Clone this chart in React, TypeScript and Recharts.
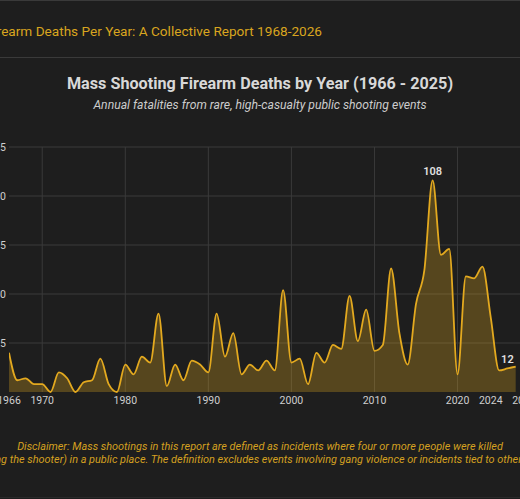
import React from "react";
import { AreaChart, Area, XAxis, YAxis, CartesianGrid } from "recharts";

const YEARS = [
  1966, 1967, 1968, 1969, 1970, 1971, 1972, 1973, 1974, 1975, 1976, 1977, 1978, 1979,
  1980, 1981, 1982, 1983, 1984, 1985, 1986, 1987, 1988, 1989, 1990, 1991, 1992, 1993,
  1994, 1995, 1996, 1997, 1998, 1999, 2000, 2001, 2002, 2003, 2004, 2005, 2006, 2007,
  2008, 2009, 2010, 2011, 2012, 2013, 2014, 2015, 2016, 2017, 2018, 2019, 2020, 2021,
  2022, 2023, 2024, 2025, 2026, 2027,
];

const DEATHS = [
  20, 6, 7, 4, 4, 0, 10, 7, 0, 5, 6, 17, 4, 0,
  14, 9, 18, 15, 40, 3, 14, 6, 16, 14, 10, 40, 18, 30,
  9, 14, 11, 16, 11, 52, 15, 17, 4, 20, 15, 24, 22, 49,
  26, 42, 21, 24, 63, 30, 14, 45, 62, 108, 70, 73, 9, 59,
  58, 64, 38, 11, 12, 13,
];

const X_TICKS = [1966, 1970, 1980, 1990, 2000, 2010, 2020, 2024, 2028];
const X_GRID = [1970, 1980, 1990, 2000, 2010, 2020];
const Y_TICKS = [25, 50, 75, 100, 125];
const LABELLED_YEARS = [2017, 2026];

const GOLD = "#e3a91f";
const BG = "#1e1e1e";
const GRID = "#3a3a3a";

const data = YEARS.map((year, i) => ({ year, deaths: DEATHS[i] }));

function PeakLabel(props: any) {
  const { x, y, value, index } = props;
  if (!LABELLED_YEARS.includes(YEARS[index])) return null;
  return (
    <text
      x={x}
      y={y - 5}
      textAnchor="middle"
      fill="#e0e0e0"
      fontSize={11}
      fontWeight={600}
      fontFamily="Roboto"
    >
      {value}
    </text>
  );
}

export default function App() {
  const tick = { fill: "#cfcfcf", fontSize: 10.5, fontFamily: "Roboto" };
  return (
    <div
      style={{
        position: "fixed",
        left: 0,
        top: 0,
        width: 520,
        height: 499,
        overflow: "hidden",
        background: BG,
        fontFamily: "Roboto",
      }}
    >
      <div style={{ position: "absolute", left: 0, top: 0, width: 520, height: 1, background: GRID }} />
      {/* header, left part runs off the page */}
      <div
        style={{
          position: "absolute",
          right: 198,
          top: 25.2,
          fontSize: 13.6,
          lineHeight: "13.6px",
          color: "#d9a51f",
          whiteSpace: "nowrap",
        }}
      >
        Mass Shooting Firearm Deaths Per Year: A Collective Report 1968-2026
      </div>
      <div style={{ position: "absolute", left: 0, top: 57, width: 520, height: 1, background: GRID }} />

      <div
        style={{
          position: "absolute",
          left: -140,
          width: 800,
          top: 76.4,
          textAlign: "center",
          fontSize: 16.2,
          lineHeight: "16.2px",
          fontWeight: 700,
          color: "#d8d8d8",
        }}
      >
        Mass Shooting Firearm Deaths by Year (1966 - 2025)
      </div>
      <div
        style={{
          position: "absolute",
          left: -140,
          width: 800,
          top: 98.7,
          textAlign: "center",
          fontSize: 12.2,
          lineHeight: "12.2px",
          fontStyle: "italic",
          color: "#cccccc",
        }}
      >
        Annual fatalities from rare, high-casualty public shooting events
      </div>

      <div style={{ position: "absolute", left: -40, top: 120 }}>
        <AreaChart
          width={600}
          height={302}
          data={data}
          margin={{ top: 27, right: 36, bottom: 0, left: 0 }}
        >
          <CartesianGrid
            stroke={GRID}
            strokeWidth={1}
            verticalValues={X_GRID}
            horizontalValues={Y_TICKS}
          />
          <XAxis
            dataKey="year"
            type="number"
            domain={[1966, 2028]}
            ticks={X_TICKS}
            interval={0}
            tick={tick}
            tickLine={false}
            axisLine={false}
            tickSize={0}
            tickMargin={5}
            height={30}
            allowDataOverflow
          />
          <YAxis
            domain={[0, 125]}
            ticks={Y_TICKS}
            tick={tick}
            tickLine={false}
            axisLine={false}
            tickSize={0}
            tickMargin={3}
            width={49}
          />
          <Area
            type="monotone"
            dataKey="deaths"
            stroke={GOLD}
            strokeWidth={1.8}
            fill="#d9a520"
            fillOpacity={0.3}
            dot={false}
            activeDot={false}
            label={<PeakLabel />}
            isAnimationActive={false}
          />
        </AreaChart>
      </div>

      <div
        style={{
          position: "absolute",
          left: -240,
          width: 1000,
          top: 439.6,
          textAlign: "center",
          fontSize: 10.9,
          lineHeight: "13.3px",
          fontStyle: "italic",
          color: "#d4a020",
          whiteSpace: "nowrap",
        }}
      >
        <div>
          Disclaimer: Mass shootings in this report are defined as incidents where four or more people were killed
        </div>
        <div>
          (including the shooter) in a public place. The definition excludes events involving gang violence or
          incidents tied to other crimes.
        </div>
      </div>
      <div style={{ position: "absolute", left: 0, top: 497, width: 520, height: 1, background: "#2a2a2a" }} />
    </div>
  );
}
